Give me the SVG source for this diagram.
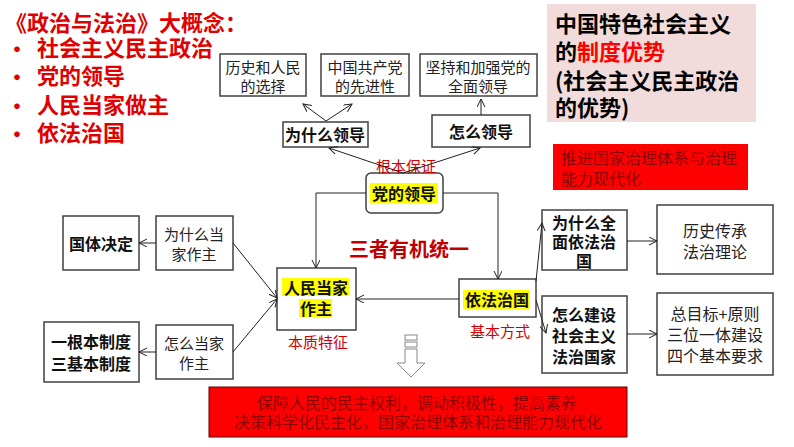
<svg xmlns="http://www.w3.org/2000/svg" width="794" height="447" viewBox="0 0 794 447">
<style>
text{font-family:"Noto Sans CJK SC","Noto Sans",sans-serif;dominant-baseline:central;text-anchor:middle}
.box{fill:#fff;stroke:#404040;stroke-width:1.5}
.t{font-size:15px;fill:#222}
.b{font-size:16px;font-weight:bold;fill:#111}
.big{font-size:22px;font-weight:bold;fill:#e00000;text-anchor:start}
.lab{font-size:15px;fill:#d00000}
.hl{fill:#ffff00}
.con{fill:none;stroke:#222;stroke-width:1}
.rt{font-size:15.5px;fill:#8a0000}
</style>
<defs>
<marker id="ar" markerUnits="userSpaceOnUse" markerWidth="10" markerHeight="10" refX="8" refY="4" orient="auto">
<path d="M0,0 L8,4 L0,8" fill="none" stroke="#222" stroke-width="1"/>
</marker>
</defs>

<g id="title">
<text class="big" x="5" y="21">《政治与法治》大概念：</text>
<text class="big" x="6" y="47">•</text>
<text class="big" x="37" y="46">社会主义民主政治</text>
<text class="big" x="6" y="75">•</text>
<text class="big" x="37" y="74">党的领导</text>
<text class="big" x="6" y="104">•</text>
<text class="big" x="37" y="103">人民当家做主</text>
<text class="big" x="6" y="132">•</text>
<text class="big" x="37" y="131">依法治国</text>
</g>

<g id="advantage">
<rect x="547" y="4" width="209" height="118" fill="#f2dcdb"/>
<text x="555" y="22" style="font-size:22px;font-weight:bold;fill:#000;text-anchor:start">中国特色社会主义</text>
<text x="555" y="50" style="font-size:22px;font-weight:bold;fill:#000;text-anchor:start">的<tspan fill="#ff0000">制度优势</tspan></text>
<text x="555" y="79" style="font-size:22px;font-weight:bold;fill:#000;text-anchor:start">(社会主义民主政治</text>
<text x="555" y="106" style="font-size:22px;font-weight:bold;fill:#000;text-anchor:start">的优势)</text>
</g>

<g id="modernize">
<rect x="553" y="144" width="195" height="46" fill="#ff0000"/>
<text class="rt" x="561" y="157" style="text-anchor:start;font-size:16px">推进国家治理体系与治理</text>
<text class="rt" x="561" y="178" style="text-anchor:start;font-size:16px">能力现代化</text>
</g>

<g id="n-history">
<rect class="box" x="220" y="54" width="86" height="42"/>
<text class="t" x="263" y="66">历史和人民</text>
<text class="t" x="263" y="85">的选择</text>
</g>
<g id="n-advanced">
<rect class="box" x="321" y="54" width="88" height="42"/>
<text class="t" x="365" y="66">中国共产党</text>
<text class="t" x="365" y="85">的先进性</text>
</g>
<g id="n-strengthen">
<rect class="box" x="420" y="54" width="117" height="42"/>
<text class="t" x="478" y="66">坚持和加强党的</text>
<text class="t" x="478" y="85">全面领导</text>
</g>
<g id="n-why-lead">
<rect class="box" x="283" y="122" width="85" height="25"/>
<text class="b" x="325" y="134">为什么领导</text>
</g>
<g id="n-how-lead">
<rect class="box" x="432" y="115" width="98" height="32"/>
<text class="b" x="481" y="131">怎么领导</text>
</g>
<g id="n-party">
<rect x="366" y="173" width="77" height="40" rx="5" class="box"/>
<rect class="hl" x="370" y="183" width="68" height="20"/>
<text class="b" x="404" y="193">党的领导</text>
</g>
<g id="n-people">
<rect class="box" x="277" y="268" width="79" height="62"/>
<rect class="hl" x="282" y="278" width="67" height="18"/>
<rect class="hl" x="299" y="299" width="33" height="18"/>
<text class="b" x="316" y="287">人民当家</text>
<text class="b" x="316" y="308">作主</text>
</g>
<g id="n-law">
<rect class="box" x="459" y="279" width="77" height="38"/>
<rect class="hl" x="463" y="290" width="67" height="19"/>
<text class="b" x="497" y="299">依法治国</text>
</g>
<g id="n-guoti">
<rect class="box" x="63" y="216" width="76" height="54"/>
<text class="b" x="101" y="243">国体决定</text>
</g>
<g id="n-why-master">
<rect class="box" x="156" y="216" width="77" height="54"/>
<text class="t" x="194" y="233">为什么当</text>
<text class="t" x="194" y="253">家作主</text>
</g>
<g id="n-system">
<rect class="box" x="44" y="322" width="95" height="60"/>
<text class="b" x="91" y="341">一根本制度</text>
<text class="b" x="91" y="363">三基本制度</text>
</g>
<g id="n-how-master">
<rect class="box" x="156" y="325" width="77" height="54"/>
<text class="t" x="194" y="342">怎么当家</text>
<text class="t" x="194" y="362">作主</text>
</g>
<g id="n-why-law">
<rect class="box" x="542" y="210" width="85" height="60"/>
<text class="b" x="584" y="222">为什么全</text>
<text class="b" x="584" y="241">面依法治</text>
<text class="b" x="584" y="260">国</text>
</g>
<g id="n-history-law">
<rect class="box" x="657" y="205" width="116" height="69"/>
<text class="t" x="715" y="230" style="font-size:16px">历史传承</text>
<text class="t" x="715" y="251" style="font-size:16px">法治理论</text>
</g>
<g id="n-how-law">
<rect class="box" x="542" y="296" width="85" height="77"/>
<text class="b" x="584" y="314">怎么建设</text>
<text class="b" x="584" y="335">社会主义</text>
<text class="b" x="584" y="356">法治国家</text>
</g>
<g id="n-goals">
<rect class="box" x="657" y="293" width="116" height="82"/>
<text class="t" x="715" y="313" style="font-size:16px">总目标+原则</text>
<text class="t" x="715" y="334" style="font-size:16px">三位一体建设</text>
<text class="t" x="715" y="355" style="font-size:16px">四个基本要求</text>
</g>

<g id="labels">
<text class="lab" x="406" y="165">根本保证</text>
<text class="lab" x="318" y="341">本质特征</text>
<text class="lab" x="500" y="330">基本方式</text>
<text x="409" y="248" style="font-size:20px;font-weight:bold;fill:#c00000">三者有机统一</text>
</g>

<g id="connectors">
<line class="con" x1="326" y1="121" x2="303" y2="104" marker-end="url(#ar)"/>
<line class="con" x1="326" y1="121" x2="352" y2="104" marker-end="url(#ar)"/>
<line class="con" x1="481" y1="115" x2="481" y2="99" marker-end="url(#ar)"/>
<line class="con" x1="403" y1="173" x2="329" y2="148" marker-end="url(#ar)"/>
<line class="con" x1="403" y1="173" x2="480" y2="148" marker-end="url(#ar)"/>
<polyline class="con" points="366,193 316,193 316,268" marker-end="url(#ar)"/>
<polyline class="con" points="443,193 498,193 498,279" marker-end="url(#ar)"/>
<line class="con" x1="459" y1="299" x2="356" y2="299" marker-end="url(#ar)"/>
<line class="con" x1="536" y1="281" x2="542" y2="223" marker-end="url(#ar)"/>
<line class="con" x1="536" y1="300" x2="546" y2="333" marker-end="url(#ar)"/>
<line class="con" x1="627" y1="241" x2="657" y2="241" marker-end="url(#ar)"/>
<line class="con" x1="627" y1="334" x2="657" y2="334" marker-end="url(#ar)"/>
<line class="con" x1="156" y1="243" x2="139" y2="243" marker-end="url(#ar)"/>
<line class="con" x1="156" y1="352" x2="139" y2="352" marker-end="url(#ar)"/>
<line class="con" x1="233" y1="243" x2="277" y2="298" marker-end="url(#ar)"/>
<line class="con" x1="233" y1="352" x2="277" y2="299" marker-end="url(#ar)"/>
</g>

<g id="down-arrow" fill="#fff" stroke="#888" stroke-width="1">
<rect x="405" y="335" width="12" height="5"/>
<rect x="405" y="342" width="12" height="5"/>
<path d="M405,349 L417,349 L417,363 L425,363 L411,377 L397,363 L405,363 Z"/>
</g>

<g id="result">
<rect x="209" y="387" width="418" height="50" fill="#ff0000" stroke="#600" stroke-width="1"/>
<text class="rt" x="417" y="402" style="font-size:16px">保障人民的民主权利，调动积极性，提高素养</text>
<text class="rt" x="418" y="421" style="font-size:16px">决策科学化民主化，国家治理体系和治理能力现代化</text>
</g>
</svg>
